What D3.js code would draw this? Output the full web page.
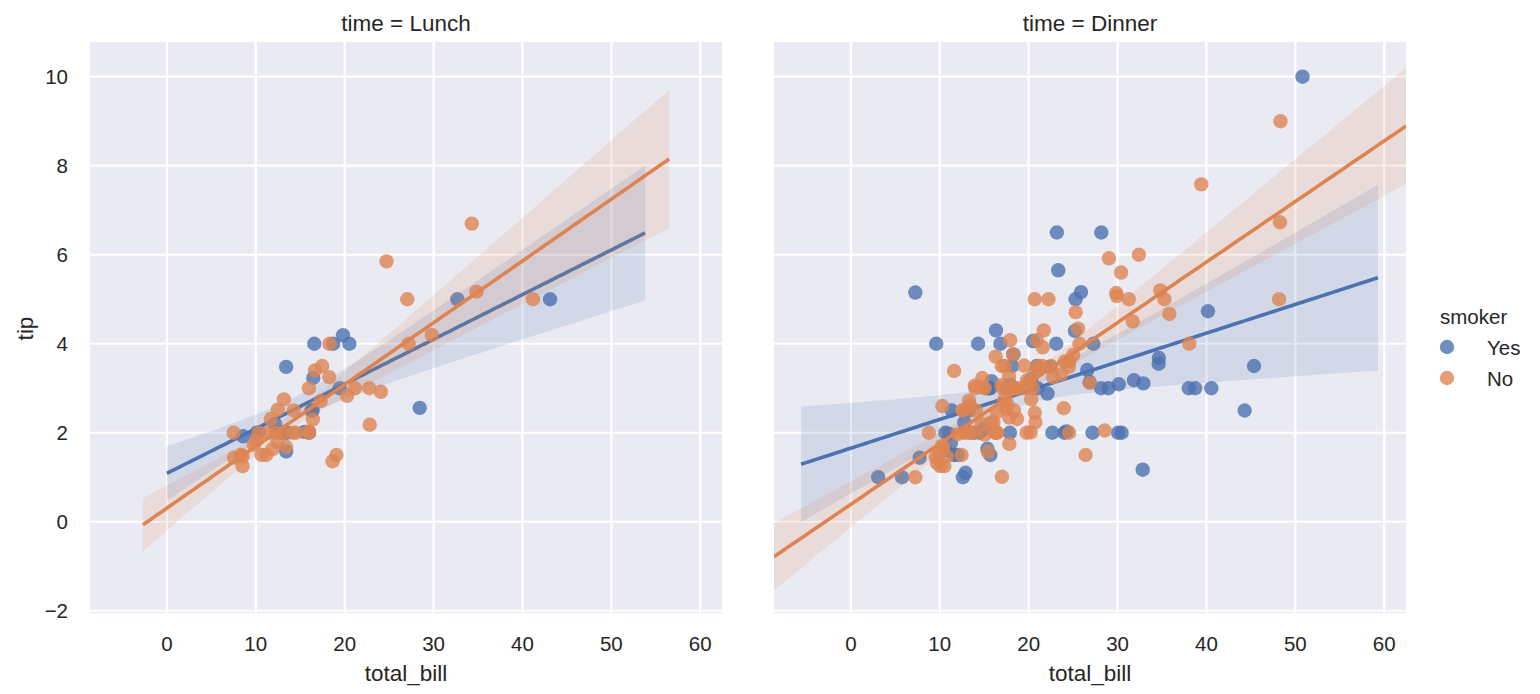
<!DOCTYPE html>
<html>
<head>
<meta charset="utf-8">
<script src="https://cdnjs.cloudflare.com/ajax/libs/d3/7.8.5/d3.min.js"></script>
<style>
    body { margin: 0; background: #fff; }
    text { font-family: "Liberation Sans", Arial, sans-serif; fill: #262626; }
</style>
</head>
<body>
<svg id="chart"></svg>
<script>
// facets and hue levels
const times = ["Lunch", "Dinner"];
const smokerLevels = ["Yes", "No"];
const smokerColors = ["#4C72B0", "#DD8452"];

// [total_bill, tip] pairs
const lunchYes = [
    [19.44, 3.00], [32.68, 5.00], [16.00, 2.00], [19.81, 4.19], [28.44, 2.56], [15.48, 2.02],
    [16.58, 4.00], [10.34, 2.00], [43.11, 5.00], [13.00, 2.00], [13.51, 2.00], [18.71, 4.00],
    [12.74, 2.01], [13.00, 2.00], [16.40, 2.50], [20.53, 4.00], [16.47, 3.23], [12.16, 2.20],
    [13.42, 3.48], [8.58, 1.92], [13.42, 1.58], [16.27, 2.50], [10.09, 2.00]
];
const lunchNo = [
    [27.20, 4.00], [22.76, 3.00], [17.29, 2.71], [16.66, 3.40], [10.07, 1.83], [15.98, 2.03],
    [34.83, 5.17], [13.03, 2.00], [18.28, 4.00], [24.71, 5.85], [21.16, 3.00], [10.65, 1.50],
    [12.43, 1.80], [24.08, 2.92], [11.69, 2.31], [13.42, 1.68], [14.26, 2.50], [15.95, 2.00],
    [12.48, 2.52], [29.80, 4.20], [8.52, 1.48], [14.52, 2.00], [11.38, 2.00], [22.82, 2.18],
    [19.08, 1.50], [20.27, 2.83], [11.17, 1.50], [12.26, 2.00], [18.26, 3.25], [8.51, 1.25],
    [10.33, 2.00], [14.15, 2.00], [13.16, 2.75], [17.47, 3.50], [34.30, 6.70], [41.19, 5.00],
    [27.05, 5.00], [16.43, 2.30], [8.35, 1.50], [18.64, 1.36], [11.87, 1.63], [9.78, 1.73],
    [7.51, 2.00], [7.56, 1.44], [15.98, 3.00]
];
const dinnerYes = [
    [38.01, 3.00], [11.24, 1.76], [20.29, 3.21], [13.81, 2.00], [11.02, 1.98], [18.29, 3.76],
    [3.07, 1.00], [15.01, 2.09], [26.86, 3.14], [25.28, 5.00], [17.92, 3.08], [28.97, 3.00],
    [5.75, 1.00], [16.32, 4.30], [40.17, 4.73], [27.28, 4.00], [12.03, 1.50], [21.01, 3.00],
    [11.35, 2.50], [15.38, 3.00], [44.30, 2.50], [22.42, 3.48], [15.36, 1.64], [20.49, 4.06],
    [25.21, 4.29], [14.31, 4.00], [17.51, 3.00], [10.59, 1.61], [10.63, 2.00], [50.81, 10.00],
    [15.81, 3.16], [7.25, 5.15], [31.85, 3.18], [16.82, 4.00], [32.90, 3.11], [17.89, 2.00],
    [14.48, 2.00], [9.60, 4.00], [34.63, 3.55], [34.65, 3.68], [23.33, 5.65], [45.35, 3.50],
    [23.17, 6.50], [40.55, 3.00], [20.90, 3.50], [30.46, 2.00], [18.15, 3.50], [23.10, 4.00],
    [15.69, 1.50], [26.59, 3.41], [38.73, 3.00], [24.27, 2.03], [12.76, 2.23], [30.06, 2.00],
    [25.89, 5.16], [13.27, 2.50], [28.17, 6.50], [12.90, 1.10], [28.15, 3.00], [11.59, 1.50],
    [7.74, 1.44], [30.14, 3.09], [22.12, 2.88], [24.01, 2.00], [15.69, 3.00], [15.53, 3.00],
    [12.60, 1.00], [32.83, 1.17], [27.18, 2.00], [22.67, 2.00]
];
const dinnerNo = [
    [16.99, 1.01], [10.34, 1.66], [21.01, 3.50], [23.68, 3.31], [24.59, 3.61], [25.29, 4.71],
    [8.77, 2.00], [26.88, 3.12], [15.04, 1.96], [14.78, 3.23], [10.27, 1.71], [35.26, 5.00],
    [15.42, 1.57], [18.43, 3.00], [14.83, 3.02], [21.58, 3.92], [10.33, 1.67], [16.29, 3.71],
    [16.97, 3.50], [20.65, 3.35], [17.92, 4.08], [20.29, 2.75], [15.77, 2.23], [39.42, 7.58],
    [19.82, 3.18], [17.81, 2.34], [13.37, 2.00], [12.69, 2.00], [21.70, 4.30], [19.65, 3.00],
    [9.55, 1.45], [18.35, 2.50], [15.06, 3.00], [20.69, 2.45], [17.78, 3.27], [24.06, 3.60],
    [16.31, 2.00], [16.93, 3.07], [18.69, 2.31], [31.27, 5.00], [16.04, 2.24], [17.46, 2.54],
    [13.94, 3.06], [9.68, 1.32], [30.40, 5.60], [18.29, 3.00], [22.23, 5.00], [32.40, 6.00],
    [28.55, 2.05], [18.04, 3.00], [12.54, 2.50], [10.29, 2.60], [34.81, 5.20], [9.94, 1.56],
    [25.56, 4.34], [19.49, 3.51], [26.41, 1.50], [48.27, 6.73], [17.59, 2.64], [20.08, 3.15],
    [16.45, 2.47], [20.23, 2.01], [12.02, 1.97], [17.07, 3.00], [14.73, 2.20], [10.51, 1.25],
    [22.49, 3.50], [22.75, 3.25], [12.46, 1.50], [20.92, 4.08], [18.24, 3.76], [14.00, 3.00],
    [7.25, 1.00], [38.07, 4.00], [23.95, 2.55], [25.71, 4.00], [17.31, 3.50], [29.93, 5.07],
    [14.07, 2.50], [13.13, 2.00], [17.26, 2.74], [24.55, 2.00], [19.77, 2.00], [29.85, 5.14],
    [48.17, 5.00], [25.00, 3.75], [13.39, 2.61], [16.49, 2.00], [21.50, 3.50], [12.66, 2.50],
    [16.21, 2.00], [13.81, 2.00], [24.52, 3.48], [20.76, 2.24], [31.71, 4.50], [20.69, 5.00],
    [48.33, 9.00], [20.45, 3.00], [13.28, 2.72], [11.61, 3.39], [10.77, 1.47], [10.07, 1.25],
    [35.83, 4.67], [29.03, 5.92], [17.82, 1.75], [18.78, 3.00]
];

// x span each regression line was drawn over
const lunchYesFit = [0, 53.8];
const lunchNoFit = [-2.7, 56.5];
const dinnerYesFit = [-5.6, 59.3];
const dinnerNoFit = [-8.65, 62.45];

const xTicks = [0, 10, 20, 30, 40, 50, 60];
const yTicks = [-2, 0, 2, 4, 6, 8, 10];
const xDomain = [-8.65, 62.45];
const yDomain = [-2.05, 10.78];

const panelData = [
    [lunchYes, lunchNo],
    [dinnerYes, dinnerNo]
];
const panelFits = [
    [lunchYesFit, lunchNoFit],
    [dinnerYesFit, dinnerNoFit]
];

const W = 1540, H = 694;
const panelLefts = [90, 774];
const panelTop = 42;
const panelW = 632, panelH = 571;

const svg = d3.select("#chart")
    .attr("width", W)
    .attr("height", H);

const xScale = d3.scaleLinear().domain(xDomain).range([0, panelW]);
const yScale = d3.scaleLinear().domain(yDomain).range([panelH, 0]);

// OLS fit; band uses a robust (HC2) variance, which tracks the
// pairs-bootstrap band seaborn draws
function fitLine(pts, range) {
    const n = pts.length;
    const mx = d3.mean(pts, d => d[0]);
    const my = d3.mean(pts, d => d[1]);
    const sxx = d3.sum(pts, d => (d[0] - mx) ** 2);
    const sxy = d3.sum(pts, d => (d[0] - mx) * (d[1] - my));
    const b = sxy / sxx;
    const a = my - b * mx;
    let w0 = 0, w1 = 0, w2 = 0;
    pts.forEach(d => {
        const u = d[0] - mx;
        const e = d[1] - a - b * d[0];
        const h = 1 / n + u * u / sxx;
        const w = e * e / (1 - h);
        w0 += w; w1 += w * u; w2 += w * u * u;
    });
    const v00 = w0 / (n * n), v01 = w1 / (n * sxx), v11 = w2 / (sxx * sxx);
    const z = 1.96;
    return d3.range(101).map(i => {
        const x = range[0] + (range[1] - range[0]) * i / 100;
        const y = a + b * x;
        const u = x - mx;
        const se = Math.sqrt(v00 + 2 * u * v01 + u * u * v11);
        return { x: x, y: y, lo: y - z * se, hi: y + z * se };
    });
}

const line = d3.line()
    .x(d => xScale(d.x))
    .y(d => yScale(d.y));

const band = d3.area()
    .x(d => xScale(d.x))
    .y0(d => yScale(d.lo))
    .y1(d => yScale(d.hi));

times.forEach((time, p) => {
    const g = svg.append("g")
        .attr("transform", `translate(${panelLefts[p]},${panelTop})`);

    g.append("rect")
        .attr("width", panelW)
        .attr("height", panelH)
        .attr("fill", "#EAEAF2");

    const clipId = "clip" + p;
    g.append("clipPath").attr("id", clipId)
        .append("rect").attr("width", panelW).attr("height", panelH);

    g.selectAll(".gx")
        .data(xTicks)
        .enter()
        .append("line")
        .attr("x1", d => xScale(d)).attr("x2", d => xScale(d))
        .attr("y1", 0).attr("y2", panelH)
        .attr("stroke", "#fff").attr("stroke-width", 2.2);

    g.selectAll(".gy")
        .data(yTicks)
        .enter()
        .append("line")
        .attr("x1", 0).attr("x2", panelW)
        .attr("y1", d => yScale(d)).attr("y2", d => yScale(d))
        .attr("stroke", "#fff").attr("stroke-width", 2.2);

    const plot = g.append("g").attr("clip-path", `url(#${clipId})`);

    smokerLevels.forEach((lvl, k) => {
        const pts = panelData[p][k];
        const col = smokerColors[k];

        plot.append("g")
            .selectAll("circle")
            .data(pts)
            .enter()
            .append("circle")
            .attr("cx", d => xScale(d[0]))
            .attr("cy", d => yScale(d[1]))
            .attr("r", 7.2)
            .attr("fill", col)
            .attr("fill-opacity", 0.8);

        const fit = fitLine(pts, panelFits[p][k]);

        plot.append("path")
            .datum(fit)
            .attr("fill", col)
            .attr("fill-opacity", 0.15)
            .attr("d", band);

        plot.append("path")
            .datum(fit)
            .attr("fill", "none")
            .attr("stroke", col)
            .attr("stroke-width", 3.6)
            .attr("d", line);
    });

    // x tick labels
    g.selectAll(".xt")
        .data(xTicks)
        .enter()
        .append("text")
        .attr("x", d => xScale(d))
        .attr("y", panelH + 30)
        .attr("text-anchor", "middle")
        .attr("dominant-baseline", "central")
        .style("font-size", "20.5px")
        .text(d => d);

    if (p === 0) {
        g.selectAll(".yt")
            .data(yTicks)
            .enter()
            .append("text")
            .attr("x", -22)
            .attr("y", d => yScale(d))
            .attr("text-anchor", "end")
            .attr("dominant-baseline", "central")
            .style("font-size", "20.5px")
            .text(d => d < 0 ? "\u2212" + Math.abs(d) : d);

        g.append("text")
            .attr("transform", `translate(-65,${panelH / 2 + 1}) rotate(-90)`)
            .attr("text-anchor", "middle")
            .attr("dominant-baseline", "central")
            .style("font-size", "22.5px")
            .text("tip");
    }

    g.append("text")
        .attr("x", panelW / 2)
        .attr("y", panelH + 60)
        .attr("text-anchor", "middle")
        .attr("dominant-baseline", "central")
        .style("font-size", "22.5px")
        .text("total_bill");

    g.append("text")
        .attr("x", panelW / 2)
        .attr("y", -19)
        .attr("text-anchor", "middle")
        .attr("dominant-baseline", "central")
        .style("font-size", "22.5px")
        .text(`time = ${time}`);
});

// legend
const legend = svg.append("g")
    .attr("transform", "translate(1440,316)");

legend.append("text")
    .attr("x", 0)
    .attr("y", 0)
    .attr("dominant-baseline", "central")
    .style("font-size", "20.5px")
    .text("smoker");

const items = legend.selectAll(".item")
    .data(smokerLevels)
    .enter()
    .append("g")
    .attr("transform", (d, i) => `translate(0,${31 + i * 31})`);

items.append("circle")
    .attr("cx", 7)
    .attr("cy", 0)
    .attr("r", 7.2)
    .attr("fill", (d, i) => smokerColors[i])
    .attr("fill-opacity", 0.8);

items.append("text")
    .attr("x", 47)
    .attr("y", 0)
    .attr("dominant-baseline", "central")
    .style("font-size", "20.5px")
    .text(d => d);
</script>
</body>
</html>
